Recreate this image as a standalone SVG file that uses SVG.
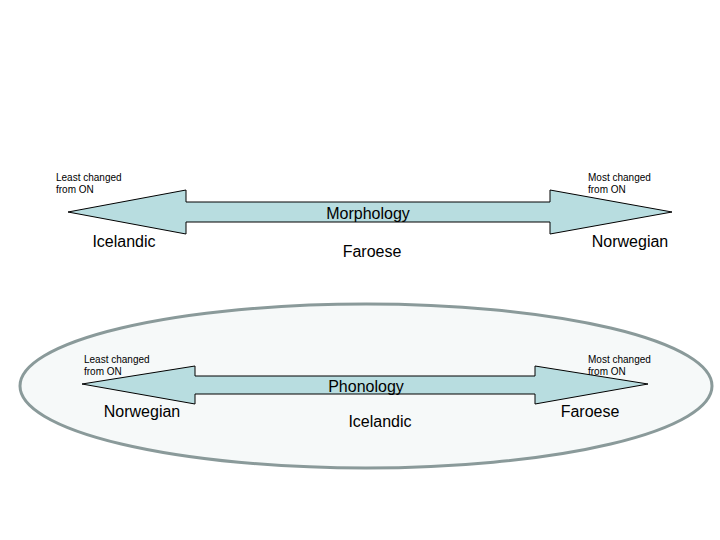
<svg xmlns="http://www.w3.org/2000/svg" width="720" height="540" viewBox="0 0 720 540">
<style>
.arr{fill:#b8dde0;stroke:#000;stroke-width:1}
.s{font-family:"Liberation Sans",Arial,sans-serif;font-size:10px;fill:#000}
.m{font-family:"Liberation Sans",Arial,sans-serif;font-size:16px;fill:#000}
</style>
<rect width="720" height="540" fill="#fff"/>
<g id="oval"><ellipse cx="366" cy="386" rx="346" ry="82" fill="#f6f9f9" stroke="#8a9a9a" stroke-width="3"/></g>
<g id="connectors">
<polygon class="arr" points="68,212 186,190 186,202 550,202 550,190 672,212 550,234 550,222 186,222 186,234"/>
<polygon class="arr" points="82,384 195,366 195,376 535,376 535,366 648,384 535,404 535,394 195,394 195,404"/>
</g>
<g id="morph">
<text class="s" x="56" y="181">Least changed</text><text class="s" x="56" y="193">from ON</text>
<text class="s" x="588" y="181">Most changed</text><text class="s" x="588" y="193">from ON</text>
<text class="m" x="368" y="219" text-anchor="middle">Morphology</text>
<text class="m" x="124" y="247" text-anchor="middle">Icelandic</text>
<text class="m" x="372" y="257" text-anchor="middle">Faroese</text>
<text class="m" x="630" y="247" text-anchor="middle">Norwegian</text>
</g>
<g id="phon">
<text class="s" x="84" y="363">Least changed</text><text class="s" x="84" y="375">from ON</text>
<text class="s" x="588" y="363">Most changed</text><text class="s" x="588" y="375">from ON</text>
<text class="m" x="366" y="392" text-anchor="middle">Phonology</text>
<text class="m" x="142" y="417" text-anchor="middle">Norwegian</text>
<text class="m" x="380" y="427" text-anchor="middle">Icelandic</text>
<text class="m" x="590" y="417" text-anchor="middle">Faroese</text>
</g>
</svg>
